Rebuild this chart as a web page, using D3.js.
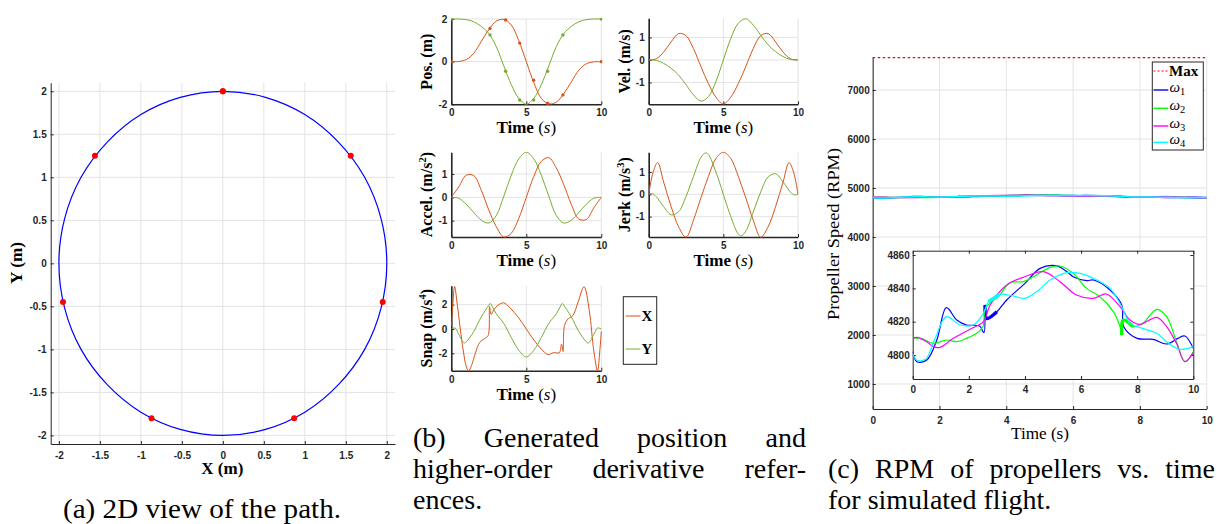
<!DOCTYPE html>
<html>
<head>
<meta charset="utf-8">
<script src="https://cdn.jsdelivr.net/npm/d3@7"></script>
<style>
  body { margin: 0; background: #fff; }
  svg { display: block; }
  .tick text { font-family: "Liberation Sans", Arial, sans-serif; font-weight: bold; font-size: 10px; fill: #262626; }
  .lab { font-family: "Liberation Serif", "Times New Roman", serif; fill: #000; }
  .cap { font-family: "Liberation Serif", "Times New Roman", serif; font-size: 28px; fill: #000; }
</style>
</head>
<body>
<div class="canvas"></div>
<script>
// ---------- data ----------
// (a) planar path read off the circle, and the waypoints
const pathX = [0, 0.52, 1.0, 1.41, 1.73, 1.93, 2.0, 1.93, 1.73, 1.41, 1.0, 0.52, 0, -0.52, -1.0, -1.41, -1.73, -1.93, -2.0, -1.93, -1.73, -1.41, -1.0, -0.52]
const pathY = [2, 1.93, 1.73, 1.41, 1.0, 0.52, 0, -0.52, -1.0, -1.41, -1.73, -1.93, -2, -1.93, -1.73, -1.41, -1.0, -0.52, 0, 0.52, 1.0, 1.41, 1.73, 1.93]
const wpT = [0, 2.58, 3.62, 4.56, 5.49, 6.42, 7.44, 10]
const wpX = [0, 1.56, 1.95, 0.87, -0.87, -1.95, -1.56, 0]
const wpY = [2, 1.25, -0.45, -1.8, -1.8, -0.45, 1.25, 2]

// (b) references, sampled every 0.5 s
const t05 = [0, 0.5, 1, 1.5, 2, 2.5, 3, 3.5, 4, 4.5, 5, 5.5, 6, 6.5, 7, 7.5, 8, 8.5, 9, 9.5, 10]
const posX = [0, 0.01, 0.1, 0.4, 0.95, 1.5, 1.9, 1.98, 1.72, 0.98, 0, -0.98, -1.72, -1.98, -1.9, -1.5, -0.95, -0.4, -0.1, -0.01, 0]
const posY = [2, 2, 1.97, 1.87, 1.65, 1.32, 0.7, -0.2, -1.08, -1.72, -2, -1.72, -1.08, -0.2, 0.7, 1.32, 1.65, 1.87, 1.97, 2, 2]
const velX = [0, 0.05, 0.35, 0.8, 1.17, 1.08, 0.5, -0.3, -1.05, -1.65, -1.95, -1.65, -1.05, -0.3, 0.5, 1.08, 1.17, 0.8, 0.35, 0.05, 0]
const velY = [0, -0.02, -0.15, -0.37, -0.67, -1.1, -1.55, -1.83, -1.63, -0.96, 0, 0.96, 1.63, 1.83, 1.55, 1.1, 0.67, 0.37, 0.15, 0.02, 0]
const accX = [0, 0.45, 0.95, 0.93, 0.3, -0.54, -1.26, -1.7, -1.54, -0.9, 0, 0.9, 1.54, 1.7, 1.26, 0.54, -0.3, -0.93, -0.95, -0.45, 0]
const accY = [0, -0.04, -0.3, -0.65, -0.98, -1.1, -0.78, 0.05, 0.95, 1.65, 1.93, 1.65, 0.95, 0.05, -0.78, -1.1, -0.98, -0.65, -0.3, -0.04, 0]
// jerk and snap read at uneven times: [t, value]
const jerkX = [[0, 0], [0.3, 1.0], [0.6, 1.42], [1, 0.55], [1.5, -0.55], [2, -1.45], [2.5, -1.92], [3, -1.15], [3.5, -0.15], [4, 0.8], [4.5, 1.6], [5, 1.88],
  [5.5, 1.6], [6, 0.8], [6.5, -0.15], [7, -1.15], [7.5, -1.92], [8, -1.45], [8.5, -0.55], [9, 0.55], [9.4, 1.42], [9.7, 1.0], [10, 0]]
const jerkY = [[0, 0], [0.25, 0.03], [0.5, -0.1], [1, -0.55], [1.5, -0.92], [2, -0.78], [2.5, -0.1], [3, 0.8], [3.5, 1.65], [3.8, 1.85], [4, 1.78], [4.5, 1.0], [5, 0],
  [5.5, -1.0], [6, -1.78], [6.2, -1.85], [6.5, -1.65], [7, -0.8], [7.5, 0.1], [8, 0.78], [8.5, 0.92], [9, 0.55], [9.5, 0.1], [9.75, -0.03], [10, 0]]
const snapX = [[0, 0.2], [0.1, 2.0], [0.22, 3.5], [0.4, 2.0], [0.6, 0], [0.8, -1.8], [1.0, -3.1], [1.15, -3.45], [1.35, -3.0], [1.6, -2.0], [1.9, -1.1], [2.2, -0.8],
  [2.45, -0.55], [2.55, 1.85], [2.65, 1.2], [2.85, 1.6], [3.1, 1.95], [3.5, 2.15], [3.9, 1.75], [4.5, 0.9], [5, 0], [5.5, -0.9], [6, -1.65], [6.45, -2.1],
  [6.8, -1.95], [7.2, -1.95], [7.35, -1.25], [7.45, -1.85], [7.55, 0.3], [7.8, 0.85], [8.1, 1.1], [8.45, 2.2], [8.85, 3.48], [9.2, 1.5], [9.5, -1.8],
  [9.75, -3.45], [9.9, -1.8], [10, -0.2]]
const snapY = [[0, 0], [0.25, 0.08], [0.5, -0.45], [0.85, -1.15], [1, -1.05], [1.5, -0.2], [2, 1.0], [2.5, 1.95], [2.6, 2.1], [2.75, 1.8], [3, 1.25], [3.5, 0.45],
  [4, -0.7], [4.5, -1.75], [5, -2.3], [5.5, -1.75], [6, -0.7], [6.5, 0.45], [7, 1.25], [7.25, 1.8], [7.4, 2.1], [7.5, 1.95], [8, 1.0], [8.5, -0.2],
  [9, -1.05], [9.15, -1.15], [9.5, -0.45], [9.75, 0.08], [10, 0]]

// (c) propeller speeds [t, rpm]
const rpmMax = 7660
const w1 = [[0, 4802], [0.15, 4796], [0.5, 4797], [0.86, 4809], [1.2, 4828.4], [1.57, 4821], [1.92, 4818], [2.38, 4817.4], [2.54, 4813.4], [2.58, 4830], [2.64, 4822],
  [3.0, 4826], [3.35, 4833], [4, 4843], [4.54, 4852], [5.1, 4853.6], [5.5, 4850], [5.72, 4847], [6.2, 4844.6], [6.44, 4845], [7.03, 4839], [7.45, 4830],
  [7.52, 4817], [8, 4810], [8.57, 4809.4], [9.05, 4806.6], [9.45, 4810], [9.7, 4811.4], [10, 4804]]
const w2 = [[0, 4810], [0.3, 4810], [0.74, 4807], [1.2, 4809], [1.57, 4808], [1.92, 4810], [2.28, 4813], [2.5, 4817], [2.6, 4828], [3.1, 4836], [3.47, 4843.4],
  [3.94, 4844], [4.3, 4847], [4.9, 4852.6], [5.25, 4853.4], [5.72, 4849], [6.2, 4840], [6.67, 4835], [7.15, 4826], [7.39, 4817], [7.45, 4812], [7.5, 4821],
  [7.86, 4817], [8.2, 4819], [8.7, 4827.4], [9.05, 4823], [9.4, 4808], [9.7, 4796], [10, 4802]]
const w3 = [[0, 4810], [0.15, 4810.6], [0.5, 4808], [0.74, 4805], [0.97, 4804.6], [1.45, 4810], [2.04, 4815.4], [2.52, 4820], [2.76, 4830], [3.35, 4842],
  [4, 4847], [4.66, 4850], [5.25, 4844], [5.84, 4836], [6.44, 4834], [6.9, 4836.6], [7.39, 4829], [7.74, 4821], [8.1, 4818.4], [8.7, 4822.6], [9.05, 4817],
  [9.4, 4807], [9.7, 4796], [10, 4801.4]]
const w4 = [[0, 4801], [0.14, 4797], [0.45, 4797.4], [0.8, 4810], [1.2, 4823], [1.69, 4818], [2.16, 4818], [2.52, 4825], [2.7, 4832], [3.1, 4836.4],
  [3.59, 4835.4], [4, 4834], [4.42, 4838], [4.9, 4845], [5.49, 4849.4], [5.96, 4849], [6.44, 4846], [7.03, 4840], [7.45, 4829], [7.74, 4819], [8.1, 4816.4],
  [8.7, 4813], [9.05, 4808], [9.52, 4803.4], [10, 4805]]
// time windows where the speed chatters (drawn thicker)
const w1Band = [2.58, 3.3]
const w2Band = [7.45, 7.9]
const w3Band = [2.7, 3.1]
const w4Band = [2.6, 3.4]

// ticks
const ticksA = [-2, -1.5, -1, -0.5, 0, 0.5, 1, 1.5, 2]
const ticksT = [0, 5, 10]
const ticksC = [0, 2, 4, 6, 8, 10]
const ticksRpm = [1000, 2000, 3000, 4000, 5000, 6000, 7000]
const ticksInset = [4800, 4820, 4840, 4860]

// ---------- drawing ----------
const orange = '#D95319', green = '#77AC30'
const svg = d3.select('.canvas').append('svg').attr('width', 1220).attr('height', 524)
const defs = svg.append('defs')
let clipCount = 0

const makeAxes = (o) => {
  const x = d3.scaleLinear().domain(o.xDomain).range([o.left, o.right])
  const y = d3.scaleLinear().domain(o.yDomain).range([o.bottom, o.top])
  const g = svg.append('g')
  const id = 'clip' + (clipCount++)
  defs.append('clipPath').attr('id', id).append('rect')
    .attr('x', o.left).attr('y', o.top - 1)
    .attr('width', o.right - o.left + 1).attr('height', o.bottom - o.top + 2)

  if (o.bg) {
    g.append('rect').attr('x', o.left).attr('y', o.top)
      .attr('width', o.right - o.left).attr('height', o.bottom - o.top).attr('fill', '#fff')
  }
  if (o.grid) {
    g.append('g').selectAll('line').data(o.xTicks).join('line')
      .attr('x1', d => x(d)).attr('x2', d => x(d))
      .attr('y1', o.top).attr('y2', o.bottom)
      .attr('stroke', '#e3e3e3').attr('stroke-width', 1)
    g.append('g').selectAll('line').data(o.yTicks).join('line')
      .attr('x1', o.left).attr('x2', o.right)
      .attr('y1', d => y(d)).attr('y2', d => y(d))
      .attr('stroke', '#e3e3e3').attr('stroke-width', 1)
  }

  const fmt = d => String(d)
  g.append('g').attr('transform', `translate(0,${o.bottom})`)
    .call(d3.axisBottom(x).tickValues(o.xTicks).tickSize(-3).tickSizeOuter(0)
      .tickPadding(o.xPad).tickFormat(fmt))
  g.append('g').attr('transform', `translate(${o.left},0)`)
    .call(d3.axisLeft(y).tickValues(o.yTicks).tickSize(-3).tickSizeOuter(0)
      .tickPadding(o.yPad).tickFormat(fmt))
  if (o.box) {
    g.append('g').attr('transform', `translate(0,${o.top})`)
      .call(d3.axisTop(x).tickValues(o.xTicks).tickSize(-3).tickSizeOuter(0).tickFormat(''))
    g.append('g').attr('transform', `translate(${o.right},0)`)
      .call(d3.axisRight(y).tickValues(o.yTicks).tickSize(-3).tickSizeOuter(0).tickFormat(''))
  }
  g.selectAll('.domain').attr('stroke', '#262626').attr('stroke-width', o.lw || 1)
  g.selectAll('.tick line').attr('stroke', '#262626')

  const plot = g.append('g').attr('clip-path', `url(#${id})`)
  return { x, y, g, plot }
}

const curve = d3.curveCatmullRom.alpha(0.5)

// ----- (a) 2D view of the path -----
const A = makeAxes({
  left: 50.7, right: 395, top: 82.7, bottom: 444,
  xDomain: [-2.1, 2.1], yDomain: [-2.1, 2.1],
  xTicks: ticksA, yTicks: ticksA, grid: true, xPad: 8, yPad: 4
})
A.plot.append('path')
  .datum(pathX.map((d, i) => [d, pathY[i]]))
  .attr('fill', 'none').attr('stroke', '#0000ff').attr('stroke-width', 1.2)
  .attr('d', d3.line().x(d => A.x(d[0])).y(d => A.y(d[1])).curve(d3.curveCatmullRomClosed.alpha(0.5)))
A.plot.append('g').selectAll('circle')
  .data(wpX.map((d, i) => [d, wpY[i]]))
  .join('circle')
  .attr('cx', d => A.x(d[0])).attr('cy', d => A.y(d[1])).attr('r', 3)
  .attr('fill', '#ff0000')
A.g.append('text').attr('class', 'lab').attr('font-weight', 'bold').attr('font-size', 16)
  .attr('x', 222.3).attr('y', 474).attr('text-anchor', 'middle')
  .attr('textLength', 42).attr('lengthAdjust', 'spacingAndGlyphs').text('X (m)')
A.g.append('text').attr('class', 'lab').attr('font-weight', 'bold').attr('font-size', 16)
  .attr('transform', 'translate(22,263) rotate(-90)').attr('text-anchor', 'middle')
  .attr('textLength', 42).attr('lengthAdjust', 'spacingAndGlyphs').text('Y (m)')

// ----- (b) references -----
const pairs = (t, v) => t.map((d, i) => [d, v[i]])
const subplots = [
  { left: 451.3, right: 601.3, top: 19, bottom: 104.3, yDomain: [-2, 2], yTicks: [-2, 0, 2],
    x: pairs(t05, posX), y: pairs(t05, posY), label: ['Pos. (m)'], markers: true },
  { left: 648.7, right: 798, top: 18.3, bottom: 104.3, yDomain: [-1.97, 1.85], yTicks: [-1, 0, 1],
    x: pairs(t05, velX), y: pairs(t05, velY), label: ['Vel. (m/s)'] },
  { left: 451.3, right: 601.3, top: 152.3, bottom: 237, yDomain: [-1.7, 1.93], yTicks: [-1, 0, 1],
    x: pairs(t05, accX), y: pairs(t05, accY), label: ['Accel. (m/s', '2', ')'] },
  { left: 648.7, right: 798, top: 152.3, bottom: 237, yDomain: [-1.91, 1.88], yTicks: [-1, 0, 1],
    x: jerkX, y: jerkY, label: ['Jerk (m/s', '3', ')'] },
  { left: 451.3, right: 601.3, top: 285.7, bottom: 370.7, yDomain: [-3.43, 3.56], yTicks: [-2, 0, 2],
    x: snapX, y: snapY, label: ['Snap (m/s', '4', ')'] }
]

subplots.forEach(s => {
  const P = makeAxes({
    left: s.left, right: s.right, top: s.top, bottom: s.bottom,
    xDomain: [0, 10], yDomain: s.yDomain, xTicks: ticksT, yTicks: s.yTicks,
    grid: true, xPad: 5, yPad: 4, lw: 1.6
  })
  const line = d3.line().x(d => P.x(d[0])).y(d => P.y(d[1])).curve(curve)
  P.plot.append('path').datum(s.x).attr('fill', 'none').attr('stroke', orange).attr('stroke-width', 1).attr('d', line)
  P.plot.append('path').datum(s.y).attr('fill', 'none').attr('stroke', green).attr('stroke-width', 1).attr('d', line)
  if (s.markers) {
    P.plot.append('g').selectAll('circle').data(pairs(wpT, wpX)).join('circle')
      .attr('cx', d => P.x(d[0])).attr('cy', d => P.y(d[1])).attr('r', 1.7).attr('fill', orange)
    P.plot.append('g').selectAll('circle').data(pairs(wpT, wpY)).join('circle')
      .attr('cx', d => P.x(d[0])).attr('cy', d => P.y(d[1])).attr('r', 1.7).attr('fill', green)
  }
  // x label
  const xl = P.g.append('text').attr('class', 'lab').attr('font-size', 17)
    .attr('x', (s.left + s.right) / 2).attr('y', s.bottom + 29).attr('text-anchor', 'middle')
  xl.append('tspan').attr('font-weight', 'bold').text('Time ')
  xl.append('tspan').text('(')
  xl.append('tspan').attr('font-style', 'italic').text('s')
  xl.append('tspan').text(')')
  // y label
  const cy = (s.top + s.bottom) / 2
  const yl = P.g.append('text').attr('class', 'lab').attr('font-size', 16).attr('font-weight', 'bold')
    .attr('transform', `translate(${s.left - 19},${cy}) rotate(-90)`).attr('text-anchor', 'middle')
  yl.append('tspan').text(s.label[0])
  if (s.label.length > 1) {
    yl.append('tspan').attr('font-size', 10.5).attr('dy', -6).text(s.label[1])
    yl.append('tspan').attr('dy', 6).text(s.label[2])
  }
})

// legend of (b)
const legB = svg.append('g')
legB.append('rect').attr('x', 623.3).attr('y', 296.7).attr('width', 33.4).attr('height', 67.6)
  .attr('fill', '#fff').attr('stroke', '#262626').attr('stroke-width', 1)
const legBItems = [{ name: 'X', color: orange, y: 316 }, { name: 'Y', color: green, y: 349 }]
legBItems.forEach(d => {
  legB.append('line').attr('x1', 625.7).attr('x2', 640.5).attr('y1', d.y).attr('y2', d.y)
    .attr('stroke', d.color).attr('stroke-width', 1)
  legB.append('text').attr('class', 'lab').attr('font-weight', 'bold').attr('font-size', 15)
    .attr('x', 641.5).attr('y', d.y + 5).text(d.name)
})

// ----- (c) RPM -----
const C = makeAxes({
  left: 872.7, right: 1206.7, top: 56.7, bottom: 409,
  xDomain: [0, 10], yDomain: [490, 7680], xTicks: ticksC, yTicks: ticksRpm,
  grid: true, xPad: 8, yPad: 3
})
const motors = [
  { data: w1, color: '#0000ff', band: w1Band },
  { data: w2, color: '#00ff00', band: w2Band },
  { data: w3, color: '#ff00ff', band: w3Band },
  { data: w4, color: '#00ffff', band: w4Band }
]
C.plot.append('line').attr('x1', C.x(0)).attr('x2', C.x(10))
  .attr('y1', C.y(rpmMax)).attr('y2', C.y(rpmMax))
  .attr('stroke', '#ff0000').attr('stroke-width', 1.2).attr('stroke-dasharray', '2.5,2.5')
const lineC = d3.line().x(d => C.x(d[0])).y(d => C.y(d[1])).curve(curve)
motors.forEach(m => {
  C.plot.append('path').datum(m.data).attr('fill', 'none').attr('stroke', m.color)
    .attr('stroke-width', 1.5).attr('d', lineC)
})
C.g.append('text').attr('class', 'lab').attr('font-size', 16)
  .attr('x', 1040).attr('y', 439).attr('text-anchor', 'middle')
  .attr('textLength', 58).attr('lengthAdjust', 'spacingAndGlyphs').text('Time (s)')
C.g.append('text').attr('class', 'lab').attr('font-size', 16)
  .attr('transform', 'translate(839,234) rotate(-90)').attr('text-anchor', 'middle')
  .attr('textLength', 172).attr('lengthAdjust', 'spacingAndGlyphs')
  .text('Propeller Speed (RPM)')

// legend of (c)
const legC = svg.append('g')
legC.append('rect').attr('x', 1152.3).attr('y', 62).attr('width', 51).attr('height', 88)
  .attr('fill', '#fff').attr('stroke', '#262626').attr('stroke-width', 1)
legC.append('line').attr('x1', 1153.5).attr('x2', 1168.3).attr('y1', 71).attr('y2', 71)
  .attr('stroke', '#ff0000').attr('stroke-width', 1.2).attr('stroke-dasharray', '2,2')
legC.append('text').attr('class', 'lab').attr('font-weight', 'bold').attr('font-size', 15)
  .attr('x', 1169).attr('y', 76).text('Max')
const legCY = [90, 108.3, 126, 142.3]
motors.forEach((m, i) => {
  legC.append('line').attr('x1', 1153.5).attr('x2', 1168.3).attr('y1', legCY[i]).attr('y2', legCY[i])
    .attr('stroke', m.color).attr('stroke-width', 1.4)
  const t = legC.append('text').attr('class', 'lab').attr('font-size', 15)
    .attr('x', 1169.5).attr('y', legCY[i] + 2)
  t.append('tspan').attr('font-style', 'italic').text('ω')
  t.append('tspan').attr('font-size', 10.5).attr('dy', 3).text(String(i + 1))
})

// inset
const I = makeAxes({
  left: 912.7, right: 1193.3, top: 250.7, bottom: 379,
  xDomain: [0, 10], yDomain: [4785.6, 4862.6], xTicks: ticksC, yTicks: ticksInset,
  grid: false, bg: true, box: true, xPad: 7, yPad: 3
})
const lineI = d3.line().x(d => I.x(d[0])).y(d => I.y(d[1])).curve(curve)
motors.forEach(m => {
  I.plot.append('path').datum(m.data).attr('fill', 'none').attr('stroke', m.color)
    .attr('stroke-width', 1.2).attr('d', lineI)
  I.plot.append('path').datum(m.data.filter(d => d[0] >= m.band[0] && d[0] <= m.band[1]))
    .attr('fill', 'none').attr('stroke', m.color).attr('stroke-width', 3.5).attr('d', lineI)
})

// ----- captions -----
svg.append('text').attr('class', 'cap').attr('x', 63).attr('y', 518)
  .attr('textLength', 278).attr('lengthAdjust', 'spacingAndGlyphs')
  .text('(a) 2D view of the path.')

const justify = (words, left, right, base, fill) => {
  const ts = svg.append('g').selectAll('text').data(words).join('text')
    .attr('class', 'cap').attr('y', base).text(d => d)
  const widths = ts.nodes().map(n => n.getComputedTextLength())
  const gap = fill ? (right - left - d3.sum(widths)) / (words.length - 1) : 7
  let xpos = left
  ts.attr('x', (d, i) => { const xi = xpos; xpos += widths[i] + gap; return xi })
}
justify(['(b)', 'Generated', 'position', 'and'], 413, 806, 447, true)
justify(['higher-order', 'derivative', 'refer-'], 413, 806, 478, true)
justify(['ences.'], 413, 806, 509, false)
justify(['(c)', 'RPM', 'of', 'propellers', 'vs.', 'time'], 828, 1215, 478, true)
justify(['for', 'simulated', 'flight.'], 828, 1059, 509, false)
</script>
</body>
</html>
